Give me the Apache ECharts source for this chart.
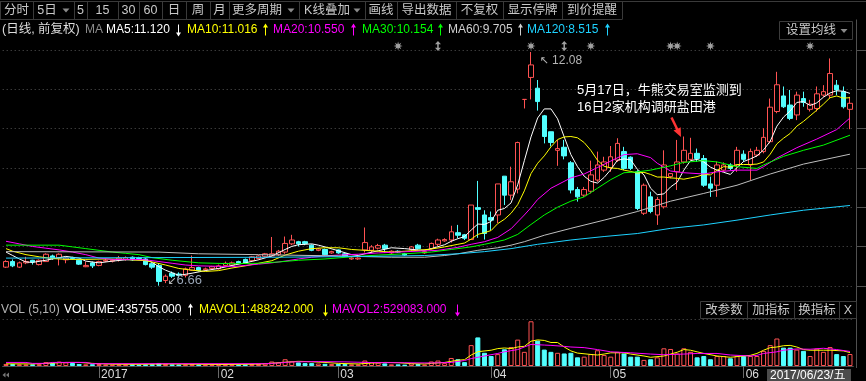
<!DOCTYPE html>
<html>
<head>
<meta charset="utf-8">
<title>日线 前复权</title>
<script src="https://cdn.jsdelivr.net/npm/echarts@6/dist/echarts.min.js"></script>
<style>html,body{margin:0;padding:0;background:#000;}</style>
</head>
<body>
<div id="main" style="width:866px;height:381px;"></div>
<script type="text/javascript">
// trading days shown (Dec 13 2016 .. Jun 23 2017)
var dec16 = [13,14,15,16,19,20,21,22,23,26,27,28,29,30];
var jan17 = [3,4,5,6,9,10,11,12,13,16,17,18,19,20,23,24,25,26];
var feb17 = [3,6,7,8,9,10,13,14,15,16,17,20,21,22,23,24,27,28];
var mar17 = [1,2,3,6,7,8,9,10,13,14,15,16,17,20,21,22,23,24,27,28,29,30,31];
var apr17 = [5,6,7,10,11,12,13,14,17,18,19,20,21,24,25,26,27,28];
var may17 = [2,3,4,5,8,9,10,11,12,15,16,17,18,19,22,23,24,25,26,31];
var jun17 = [1,2,5,6,7,8,9,12,13,14,15,16,19,20,21,22,23];

var monthStart = [14, 32, 50, 73, 91, 111];
var monthLabel = ['2017', '02', '03', '04', '05', '06'];

var openP = [
 7.09,7.22,7.09,7.19,7.25,7.15,7.22,7.35,7.30,7.26,
 7.31,7.25,7.10,7.19,7.13,7.23,7.23,7.26,7.27,7.32,
 7.31,7.28,7.17,7.13,6.78,6.95,6.93,6.90,7.02,7.08,
 7.03,7.06,7.05,7.13,7.14,7.22,7.27,7.24,7.29,7.34,
 7.35,7.38,7.44,7.63,7.68,7.68,7.60,7.48,7.50,7.42,
 7.49,7.40,7.28,7.28,7.49,7.48,7.53,7.60,7.42,7.46,
 7.40,7.50,7.60,7.42,7.52,7.62,7.70,7.72,7.89,7.84,
 7.73,8.47,8.30,8.24,8.30,9.20,8.76,8.90,10.98,11.49,
 11.24,10.60,10.23,9.80,9.87,9.51,8.89,8.76,8.85,9.11,
 9.34,9.40,9.57,9.77,9.64,9.30,8.34,8.72,8.30,8.49,
 9.19,9.30,9.53,9.59,9.73,9.61,9.02,8.99,9.34,9.46,
 9.46,9.71,9.46,9.69,9.77,10.00,10.70,11.06,10.85,10.62,
 11.00,10.75,10.77,11.08,11.08,11.31,11.16,10.75
];
var closeP = [
 7.22,7.12,7.19,7.22,7.21,7.25,7.39,7.29,7.39,7.30,
 7.29,7.16,7.13,7.12,7.22,7.25,7.25,7.30,7.31,7.26,
 7.29,7.15,7.09,6.76,6.88,6.88,6.90,7.05,7.08,7.01,
 7.05,7.10,7.12,7.18,7.19,7.18,7.19,7.33,7.35,7.40,
 7.40,7.46,7.64,7.72,7.63,7.64,7.48,7.51,7.38,7.45,
 7.42,7.35,7.30,7.30,7.66,7.56,7.59,7.52,7.46,7.44,
 7.37,7.56,7.52,7.45,7.64,7.72,7.73,7.91,7.83,7.76,
 8.53,8.43,7.87,8.18,9.02,8.76,9.07,9.98,10.98,11.78,
 10.93,10.12,9.98,9.84,9.67,8.88,8.72,8.89,9.23,9.46,
 9.53,9.65,9.96,9.38,9.38,8.45,8.99,8.38,8.66,9.46,
 9.26,9.53,9.80,9.73,9.61,8.99,8.92,9.46,9.46,9.38,
 9.80,9.59,9.77,9.80,10.10,10.80,11.32,10.81,10.54,11.08,
 10.91,10.87,11.11,11.16,11.58,11.20,10.81,10.89
];
var lowP = [
 7.07,7.09,7.07,7.16,7.15,7.13,7.21,7.26,7.13,7.18,
 7.27,7.14,7.09,7.07,7.11,7.21,7.20,7.22,7.24,7.24,
 7.27,7.13,7.05,6.66,6.72,6.84,6.84,6.85,7.01,6.99,
 7.00,7.04,7.03,7.11,7.12,7.16,7.17,7.21,7.27,7.31,
 7.33,7.35,7.40,7.60,7.57,7.60,7.46,7.46,7.36,7.40,
 7.40,7.33,7.26,7.26,7.43,7.42,7.50,7.43,7.40,7.42,
 7.35,7.47,7.50,7.40,7.50,7.58,7.68,7.66,7.76,7.72,
 7.72,7.77,7.73,7.95,8.11,8.53,8.65,8.80,10.77,10.98,
 10.72,9.96,9.89,9.44,9.59,8.80,8.61,8.72,8.80,9.07,
 9.30,9.30,9.53,9.34,9.34,8.41,8.30,8.34,8.07,8.45,
 9.15,8.88,9.49,9.57,9.53,8.95,8.72,8.72,9.30,9.34,
 9.30,9.53,9.11,9.65,9.73,9.96,10.66,10.78,10.50,10.50,
 10.81,10.70,10.70,11.04,11.00,11.08,10.77,10.29
];
var highP = [
 7.25,7.27,7.22,7.33,7.26,7.27,7.41,7.38,7.41,7.32,
 7.33,7.26,7.22,7.22,7.24,7.30,7.28,7.35,7.34,7.34,
 7.33,7.30,7.20,7.18,6.92,6.99,6.97,7.08,7.36,7.10,
 7.08,7.12,7.15,7.22,7.22,7.24,7.29,7.35,7.37,7.42,
 7.79,7.49,7.80,7.84,7.70,7.70,7.62,7.53,7.52,7.47,
 7.50,7.42,7.32,7.32,8.01,7.60,7.63,7.63,7.48,7.48,
 7.42,7.58,7.63,7.47,7.66,7.75,7.76,8.05,8.07,7.86,
 8.53,9.09,8.41,8.38,9.02,9.20,9.42,10.00,10.98,12.08,
 11.43,10.62,10.23,10.04,10.04,9.55,8.95,8.95,9.56,9.77,
 9.65,9.90,10.08,9.88,9.66,9.34,9.03,8.84,8.72,9.80,
 9.27,10.04,10.12,10.09,9.84,9.69,9.19,9.54,9.52,9.50,
 9.88,9.80,9.84,9.88,10.31,11.00,11.62,11.28,11.20,11.16,
 11.16,10.97,11.28,11.31,11.93,11.43,11.28,11.04
];
var volume = [
 75000,70000,60000,55000,60000,65000,140000,110000,160000,130000,
 110000,75000,60000,65000,70000,55000,50000,55000,55000,60000,
 50000,60000,65000,110000,75000,60000,55000,60000,70000,55000,
 45000,50000,60000,65000,60000,55000,60000,70000,75000,90000,
 164000,130000,246000,164000,130000,105000,105000,90000,80000,70000,
 75000,70000,60000,60000,200000,140000,120000,95000,60000,60000,
 50000,95000,70000,50000,164000,199000,105000,292000,246000,140000,
 760000,1040000,480000,363000,433000,608000,690000,960000,515000,1627000,
 924000,597000,515000,480000,456000,480000,316000,340000,433000,573000,
 398000,340000,515000,456000,340000,340000,222000,246000,316000,644000,
 620000,456000,644000,515000,316000,363000,246000,363000,363000,281000,
 363000,363000,363000,363000,550000,760000,1000000,667000,667000,597000,
 550000,363000,632000,515000,690000,433000,363000,435755
];

// moving average lines: [candle index, value]
var ma5 = [[0,7.44],[1,7.36],[2,7.28],[3,7.21],[4,7.20],[6,7.25],[8,7.31],[9,7.34],[11,7.30],[12,7.23],[14,7.19],[16,7.23],[18,7.26],[21,7.26],[22,7.20],[23,7.10],[24,7.02],[25,6.96],[26,6.90],[28,6.95],[30,7.01],[32,7.06],[34,7.13],[36,7.19],[38,7.26],[40,7.35],[42,7.50],[43,7.57],[44,7.61],[46,7.63],[47,7.60],[48,7.56],[50,7.47],[52,7.38],[53,7.36],[54,7.40],[56,7.47],[58,7.54],[60,7.52],[62,7.49],[63,7.48],[64,7.52],[66,7.61],[67,7.69],[68,7.75],[69,7.80],[70,7.95],[71,8.09],[72,8.08],[73,8.15],[74,8.41],[75,8.45],[76,8.58],[77,9.00],[78,9.56],[79,10.11],[80,10.55],[81,10.76],[82,10.76],[83,10.53],[84,10.11],[85,9.70],[86,9.42],[87,9.20],[88,9.08],[89,9.04],[90,9.17],[91,9.35],[92,9.57],[93,9.60],[94,9.58],[95,9.36],[96,9.23],[97,8.92],[98,8.77],[99,8.79],[100,8.95],[101,9.06],[102,9.34],[103,9.56],[104,9.59],[105,9.53],[106,9.41],[107,9.34],[108,9.29],[109,9.24],[110,9.40],[111,9.54],[112,9.60],[113,9.67],[114,9.81],[115,10.01],[116,10.36],[117,10.57],[118,10.71],[119,10.91],[120,10.93],[121,10.84],[122,10.90],[123,11.03],[124,11.13],[125,11.18],[126,11.17],[127,11.12]];
var ma10 = [[0,7.52],[1,7.46],[3,7.38],[5,7.33],[7,7.29],[9,7.27],[12,7.27],[15,7.28],[18,7.27],[21,7.24],[22,7.21],[24,7.14],[26,7.06],[28,7.02],[30,6.99],[32,7.01],[34,7.07],[36,7.12],[38,7.18],[40,7.24],[42,7.37],[44,7.46],[46,7.52],[48,7.54],[50,7.54],[52,7.50],[54,7.48],[56,7.46],[58,7.44],[60,7.46],[62,7.48],[64,7.51],[66,7.56],[68,7.62],[69,7.65],[70,7.74],[71,7.85],[72,7.89],[73,7.94],[74,8.10],[75,8.20],[76,8.34],[77,8.54],[78,8.86],[79,9.26],[80,9.50],[81,9.67],[82,9.88],[83,10.05],[84,10.11],[85,10.12],[86,10.09],[87,9.98],[88,9.80],[89,9.57],[90,9.43],[91,9.39],[92,9.38],[93,9.34],[94,9.31],[95,9.27],[96,9.29],[97,9.24],[98,9.18],[99,9.18],[100,9.16],[101,9.15],[102,9.13],[103,9.16],[104,9.19],[105,9.24],[106,9.23],[107,9.34],[108,9.42],[109,9.41],[110,9.47],[111,9.47],[112,9.47],[113,9.48],[114,9.53],[115,9.71],[116,9.95],[117,10.08],[118,10.19],[119,10.36],[120,10.47],[121,10.60],[122,10.73],[123,10.87],[124,11.02],[125,11.06],[126,11.01],[127,11.02]];
var ma20 = [[0,7.69],[2,7.63],[4,7.57],[6,7.53],[8,7.49],[10,7.44],[12,7.38],[14,7.30],[16,7.27],[19,7.27],[21,7.26],[23,7.22],[25,7.18],[27,7.14],[29,7.12],[32,7.11],[34,7.10],[36,7.13],[38,7.16],[40,7.19],[42,7.23],[44,7.28],[46,7.32],[48,7.35],[50,7.37],[53,7.39],[56,7.42],[59,7.44],[62,7.46],[65,7.48],[68,7.55],[70,7.62],[72,7.68],[74,7.78],[76,7.98],[78,8.30],[79,8.47],[80,8.66],[82,8.92],[85,9.16],[87,9.25],[89,9.40],[91,9.55],[93,9.70],[95,9.72],[97,9.63],[98,9.50],[100,9.32],[102,9.28],[105,9.25],[107,9.30],[110,9.34],[113,9.34],[114,9.42],[116,9.62],[119,9.86],[122,10.06],[125,10.28],[127,10.55]];
var ma30 = [[0,7.60],[8,7.60],[10,7.56],[12,7.52],[14,7.48],[16,7.44],[18,7.41],[20,7.38],[22,7.31],[25,7.25],[29,7.19],[34,7.17],[38,7.18],[41,7.21],[44,7.25],[48,7.28],[52,7.33],[56,7.37],[60,7.40],[64,7.44],[67,7.50],[70,7.56],[72,7.62],[75,7.72],[77,7.85],[79,8.08],[81,8.30],[83,8.48],[85,8.62],[87,8.72],[89,8.92],[91,9.12],[93,9.28],[95,9.30],[97,9.34],[100,9.44],[102,9.52],[105,9.56],[107,9.53],[110,9.42],[113,9.38],[114,9.46],[117,9.66],[120,9.80],[123,9.92],[127,10.15]];
var ma60 = [[0,7.45],[23,7.44],[29,7.40],[38,7.38],[50,7.35],[58,7.32],[63,7.32],[66,7.36],[68,7.40],[71,7.48],[74,7.54],[76,7.60],[78,7.68],[81,7.83],[85,7.99],[90,8.18],[95,8.38],[100,8.62],[105,8.80],[110,8.99],[115,9.25],[120,9.48],[127,9.71]];
var ma120 = [[0,7.30],[40,7.32],[55,7.34],[63,7.36],[68,7.40],[72,7.45],[76,7.52],[80,7.62],[85,7.72],[90,7.80],[95,7.87],[100,7.99],[105,8.07],[110,8.18],[115,8.30],[120,8.41],[127,8.52]];

var mavol1 = [[0,80000],[4,75000],[6,95000],[9,130000],[11,130000],[13,95000],[16,65000],[20,60000],[24,75000],[28,65000],[32,55000],[36,60000],[38,70000],[40,100000],[42,140000],[44,170000],[46,155000],[48,130000],[50,95000],[53,75000],[55,105000],[57,130000],[59,120000],[61,85000],[63,75000],[64,95000],[66,130000],[68,210000],[69,230000],[70,400000],[71,520000],[73,574000],[74,633000],[75,656000],[76,633000],[77,691000],[78,715000],[79,902000],[80,950000],[81,930000],[82,855000],[83,855000],[84,691000],[85,550000],[86,470000],[88,420000],[89,400000],[90,434000],[91,480000],[93,480000],[94,434000],[96,364000],[97,317000],[99,364000],[100,434000],[101,500000],[102,598000],[103,574000],[104,516000],[105,457000],[107,364000],[108,340000],[109,317000],[111,364000],[112,387000],[113,457000],[114,574000],[115,668000],[116,691000],[117,738000],[118,750000],[119,691000],[120,598000],[121,574000],[123,574000],[124,574000],[126,550000],[127,488242]];
var mavol2 = [[0,130000],[3,130000],[4,95000],[6,95000],[7,130000],[12,130000],[13,85000],[39,85000],[41,110000],[43,150000],[47,160000],[51,150000],[55,125000],[60,118000],[64,110000],[67,130000],[69,200000],[70,270000],[72,364000],[74,457000],[75,516000],[77,598000],[78,691000],[79,785000],[81,762000],[82,750000],[84,715000],[85,691000],[87,668000],[89,598000],[91,516000],[94,480000],[97,434000],[99,410000],[102,434000],[104,457000],[107,457000],[109,400000],[112,364000],[113,387000],[114,457000],[116,516000],[117,574000],[119,620000],[121,610000],[123,645000],[125,598000],[127,529083]];

// info markers above the candles
var sunIdx = [59, 79, 88, 100, 101, 106, 121];
var dblIdx = [65, 84];

var RED = '#ff5252', CYAN = '#52ffff';
var GL = 2.7, GW = 850.6;

var dates = [];
function addMonth(pre, days) {
    days.forEach(function (d) { dates.push(pre + (d < 10 ? '0' + d : d)); });
}
addMonth('2016/12/', dec16); addMonth('2017/01/', jan17); addMonth('2017/02/', feb17);
addMonth('2017/03/', mar17); addMonth('2017/04/', apr17); addMonth('2017/05/', may17);
addMonth('2017/06/', jun17);

var ohlc = openP.map(function (o, i) { return [o, closeP[i], lowP[i], highP[i]]; });
var volData = volume.map(function (v, i) {
    var up = closeP[i] >= openP[i];
    return {
        value: v,
        itemStyle: up ? { color: '#000', borderColor: RED, borderWidth: 1 }
                      : { color: CYAN, borderColor: CYAN, borderWidth: 1 }
    };
});

function starPath(n, r1, r2) {
    var d = '';
    for (var k = 0; k < 2 * n; k++) {
        var r = k % 2 ? r2 : r1;
        var a = Math.PI * k / n - Math.PI / 2;
        d += (k ? 'L' : 'M') + (10 + r * Math.cos(a)).toFixed(2) + ',' + (10 + r * Math.sin(a)).toFixed(2);
    }
    return 'path://' + d + 'Z';
}

var FONT = '"Liberation Sans", "Noto Sans CJK SC", sans-serif';
function txt(x, y, s, fill, size, align) {
    return {
        type: 'text', x: x, y: y, z: 100,
        style: { text: s, fill: fill, font: (size || 12) + 'px ' + FONT,
                 textAlign: align || 'left', align: align || 'left',
                 textVerticalAlign: 'middle', verticalAlign: 'middle' }
    };
}
function ln(x1, y1, x2, y2, c) {
    return { type: 'line', z: 90, shape: { x1: x1, y1: y1, x2: x2, y2: y2 }, style: { stroke: c || '#3a3a3a', lineWidth: 1 } };
}
function tri(x, y, c) {
    return { type: 'polygon', z: 100, shape: { points: [[x - 3.5, y - 2], [x + 3.5, y - 2], [x, y + 2]] }, style: { fill: c || '#8a8a8a' } };
}
// thin tall legend arrow (up or down)
function arrow(x, y, up, c) {
    var head = up ? [[x - 2.5, y - 2.5], [x + 2.5, y - 2.5], [x, y - 6.5]]
                  : [[x - 2.5, y + 2.5], [x + 2.5, y + 2.5], [x, y + 6.5]];
    return [
        { type: 'line', z: 100, shape: { x1: x, y1: y - 5.5, x2: x, y2: y + 5.5 }, style: { stroke: c, lineWidth: 1 } },
        { type: 'polygon', z: 100, shape: { points: head }, style: { fill: c } }
    ];
}

var graphics = [];
// toolbar
graphics.push(ln(0, 1.5, 866, 1.5));
graphics.push(ln(0, 19.5, 622, 19.5));
[0.5, 33.5, 74.5, 87.5, 118.5, 139.5, 162.5, 186.5, 210.5, 229.5, 299.5, 365.5, 397.5, 456.5, 503.5, 562.5, 622.5].forEach(function (x) {
    graphics.push(ln(x, 1.5, x, 19.5));
});
var TB = '#c8c8c8';
[['分时', 16.5], ['5日', 47], ['5', 80.5], ['15', 102.5], ['30', 128.5], ['60', 150.5], ['日', 174], ['周', 198],
 ['月', 219.5], ['更多周期', 257], ['K线叠加', 327], ['画线', 381], ['导出数据', 426.5], ['不复权', 479.5],
 ['显示停牌', 532.5], ['到价提醒', 592]].forEach(function (b) {
    graphics.push(txt(b[1], 10.5, b[0], TB, 12.5, 'center'));
});
graphics.push(tri(66, 10.5), tri(291, 10.5), tri(357, 10.5));

// main legend
graphics.push(txt(2, 30, '(日线, 前复权)', '#dcdcdc', 12.5));
graphics.push(txt(85, 30, 'MA', '#8c8c8c', 12));
graphics.push(txt(106, 30, 'MA5:11.120', '#ffffff', 12));
graphics = graphics.concat(arrow(178.5, 30, false, '#ffffff'));
graphics.push(txt(187, 30, 'MA10:11.016', '#ffff00', 12));
graphics = graphics.concat(arrow(265.5, 30, true, '#ffff00'));
graphics.push(txt(273, 30, 'MA20:10.550', '#ff00ff', 12));
graphics = graphics.concat(arrow(353.5, 30, true, '#ff00ff'));
graphics.push(txt(362, 30, 'MA30:10.154', '#00ff00', 12));
graphics = graphics.concat(arrow(440.5, 30, true, '#00ff00'));
graphics.push(txt(448, 30, 'MA60:9.705', '#d0d0d0', 12));
graphics = graphics.concat(arrow(520.5, 30, true, '#d0d0d0'));
graphics.push(txt(527, 30, 'MA120:8.515', '#1ed2ff', 12));
graphics = graphics.concat(arrow(607.5, 30, true, '#1ed2ff'));
// 设置均线 button
graphics.push({ type: 'rect', z: 90, shape: { x: 779.5, y: 21.5, width: 73, height: 18 }, style: { fill: 'none', stroke: '#3c3c3c', lineWidth: 1 } });
graphics.push(txt(786, 31, '设置均线', TB, 12.5));
graphics.push(tri(844, 31));
// right border
graphics.push(ln(856.5, 19.5, 856.5, 368, '#505050'));

// annotation
graphics.push(txt(577, 90, '5月17日，牛熊交易室监测到', '#ffffff', 13));
graphics.push(txt(577, 107, '16日2家机构调研盐田港', '#ffffff', 13));
graphics.push({ type: 'polygon', z: 100, shape: { points: [[672.6, 117.0], [678.2, 128.4], [680.7, 127.2], [681, 137], [673.5, 130.6], [676.0, 129.4], [670.4, 118.0]] }, style: { fill: '#ff3434' } });

// volume header
graphics.push(txt(1, 310, 'VOL (5,10)', '#b4b4b4', 12));
graphics.push(txt(64, 310, 'VOLUME:435755.000', '#ffffff', 12));
graphics = graphics.concat(arrow(190.5, 310, true, '#ffffff'));
graphics.push(txt(199, 310, 'MAVOL1:488242.000', '#ffff00', 12));
graphics = graphics.concat(arrow(325.5, 310, false, '#ffff00'));
graphics.push(txt(332, 310, 'MAVOL2:529083.000', '#ff00ff', 12));
graphics = graphics.concat(arrow(457.5, 310, false, '#ff00ff'));
[[700.5, 47, '改参数'], [747.5, 47, '加指标'], [794.5, 45, '换指标'], [839.5, 17, 'X']].forEach(function (b) {
    graphics.push({ type: 'rect', z: 90, shape: { x: b[0], y: 301.5, width: b[1], height: 17 }, style: { fill: 'none', stroke: '#3c3c3c', lineWidth: 1 } });
    graphics.push(txt(b[0] + b[1] / 2, 310.5, b[2], TB, 12.5, 'center'));
});

// bottom axis extras
graphics.push({ type: 'polygon', z: 100, shape: { points: [[2.5, 375], [5.5, 372.5], [5.5, 377.5]] }, style: { fill: '#777' } });
graphics.push({ type: 'polygon', z: 100, shape: { points: [[6, 375], [9, 372.5], [9, 377.5]] }, style: { fill: '#777' } });
graphics.push({ type: 'rect', z: 95, shape: { x: 767, y: 369, width: 84, height: 12 }, style: { fill: '#4b4b4b' } });
graphics.push(txt(770, 375.5, '2017/06/23/五', '#ffffff', 12));

function maLine(data, color) {
    return {
        type: 'line', xAxisIndex: 0, yAxisIndex: 0, data: data, symbol: 'none', showSymbol: false,
        lineStyle: { color: color, width: 1 }, itemStyle: { color: color }, z: 3
    };
}
function volLine(data, color) {
    return {
        type: 'line', xAxisIndex: 1, yAxisIndex: 2, data: data, symbol: 'none', showSymbol: false,
        lineStyle: { color: color, width: 1 }, itemStyle: { color: color }, z: 3
    };
}

var extremeRich = {
    a: { fontFamily: 'DejaVu Sans', fontSize: 11, color: '#b4b4b4' },
    b: { fontFamily: 'Liberation Sans', fontSize: 12, color: '#b4b4b4' },
    c: { fontFamily: 'Liberation Sans', fontSize: 13, color: '#9aa6b6' }
};

var myChart = echarts.init(document.getElementById('main'));
myChart.setOption({
    backgroundColor: '#000000',
    animation: false,
    grid: [
        { left: GL, width: GW, top: 50, height: 236 },
        { left: GL, width: GW, top: 319, height: 48.7 },
        { left: GL, width: GW, top: 41, height: 10 }
    ],
    xAxis: [
        { type: 'category', gridIndex: 0, data: dates, boundaryGap: true, show: false },
        {
            type: 'category', gridIndex: 1, data: dates, boundaryGap: true,
            axisLine: { show: true, lineStyle: { color: '#505050' } },
            axisTick: {
                show: true, alignWithLabel: true, length: 12, lineStyle: { color: '#6a6a6a' },
                interval: function (idx) { return monthStart.indexOf(idx) >= 0; }
            },
            axisLabel: {
                show: true, color: '#dcdcdc', fontSize: 12, fontFamily: 'Liberation Sans', align: 'left', margin: 3,
                padding: [0, 0, 0, 2],
                interval: function (idx) { return monthStart.indexOf(idx) >= 0; },
                formatter: function (v, idx) { var k = monthStart.indexOf(idx); return k >= 0 ? monthLabel[k] : ''; }
            }
        },
        { type: 'category', gridIndex: 2, data: dates, boundaryGap: true, show: false }
    ],
    yAxis: [
        { type: 'value', gridIndex: 0, min: 6.653, max: 12.126, show: false, splitLine: { show: false } },
        {
            type: 'value', gridIndex: 0, min: 0, max: 6, interval: 1, position: 'right', offset: 856 - GL - GW,
            axisLine: { show: false }, axisLabel: { show: false },
            axisTick: { show: true, length: 10, lineStyle: { color: '#505050' } },
            splitLine: { show: true, lineStyle: { color: '#555555', type: [1, 3] } }
        },
        {
            type: 'value', gridIndex: 1, min: 0, max: 1710000, interval: 1710000, position: 'right',
            axisLine: { show: false }, axisLabel: { show: false }, axisTick: { show: false },
            splitLine: { show: true, lineStyle: { color: '#555555', type: [1, 3] } }
        },
        { type: 'value', gridIndex: 2, min: 0, max: 1, show: false }
    ],
    series: [
        {
            type: 'candlestick', xAxisIndex: 0, yAxisIndex: 0, data: ohlc, barWidth: 5, z: 2,
            itemStyle: { color: '#000000', color0: CYAN, borderColor: RED, borderColor0: CYAN, borderWidth: 1 },
            markPoint: {
                symbol: 'circle', symbolSize: 1, itemStyle: { color: 'rgba(0,0,0,0)' },
                data: [
                    { coord: [dates[79], 12.08], label: { show: true, position: 'right', offset: [3, 9], formatter: '{a|↖} {b|12.08}', rich: extremeRich } },
                    { coord: [dates[23], 6.66], label: { show: true, position: 'right', offset: [3, -5], formatter: '{a|↙}{c|6.66}', rich: extremeRich } }
                ]
            }
        },
        maLine(ma5, '#ffffff'),
        maLine(ma10, '#ffff00'),
        maLine(ma20, '#ff00ff'),
        maLine(ma30, '#00ff00'),
        maLine(ma60, '#bebebe'),
        maLine(ma120, '#1ed2ff'),
        { type: 'bar', xAxisIndex: 1, yAxisIndex: 2, data: volData, barWidth: 5, z: 2 },
        volLine(mavol1, '#ffff00'),
        volLine(mavol2, '#ff00ff'),
        {
            type: 'scatter', xAxisIndex: 2, yAxisIndex: 3, symbol: starPath(8, 10, 4.5), symbolSize: 9,
            itemStyle: { color: '#c8c8c8' }, data: sunIdx.map(function (i) { return [i, 0.5]; })
        },
        {
            type: 'scatter', xAxisIndex: 2, yAxisIndex: 3,
            symbol: 'path://M4,0L8,4L5,4L5,8L8,8L4,12L0,8L3,8L3,4L0,4Z', symbolSize: [6, 10],
            itemStyle: { color: '#c8c8c8' }, data: dblIdx.map(function (i) { return [i, 0.5]; })
        }
    ],
    graphic: graphics
});
</script>
</body>
</html>
